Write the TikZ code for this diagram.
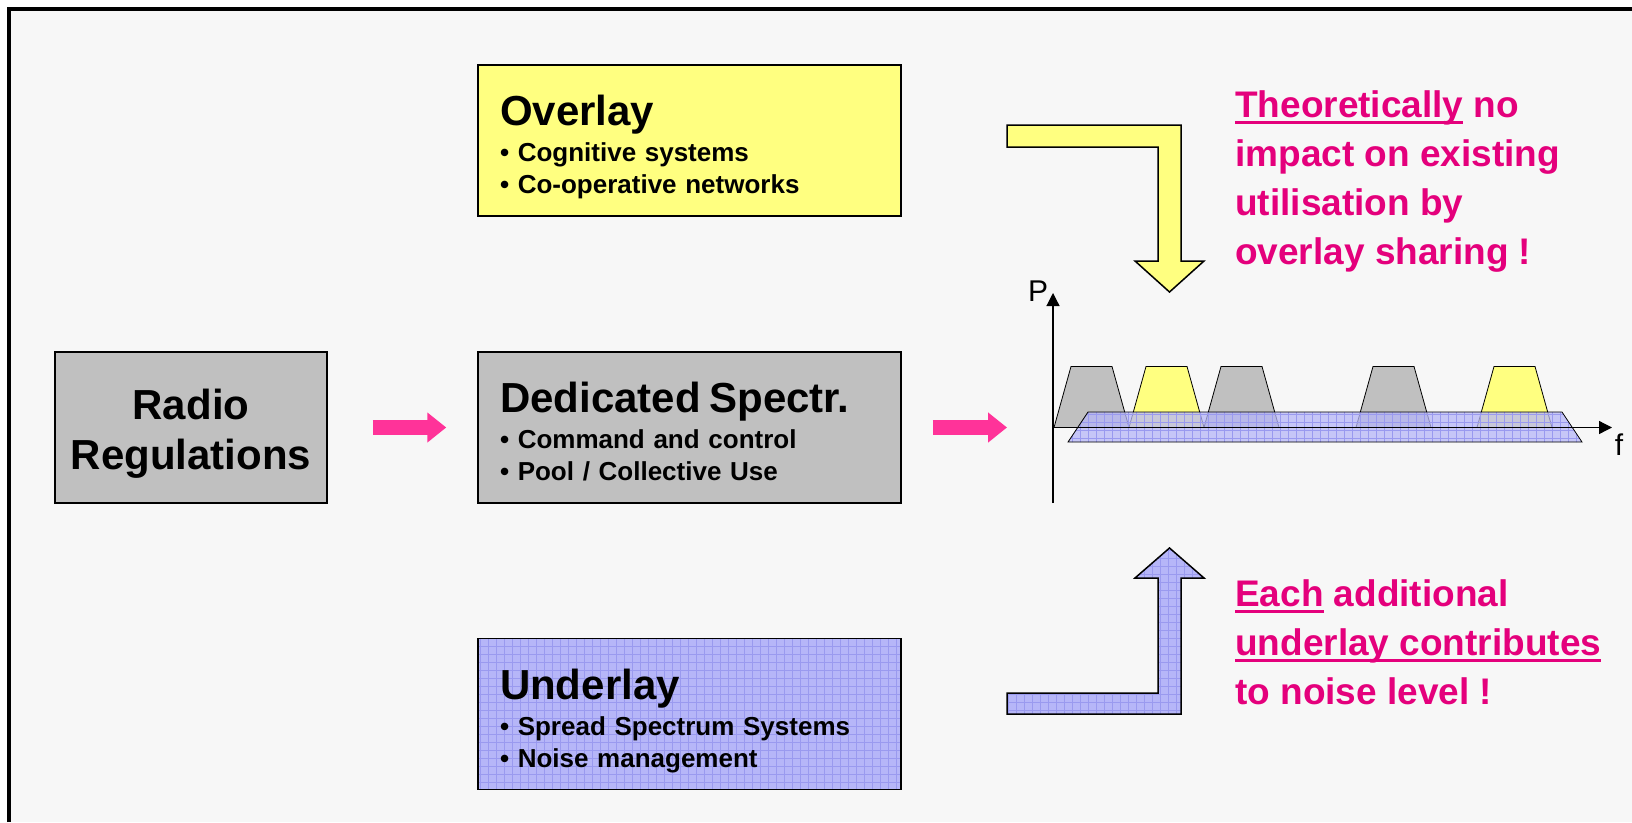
\documentclass[tikz,border=0pt]{standalone}
\usepackage{fontspec}
\setmainfont{Liberation Sans}
\usepackage{xcolor}
\usetikzlibrary{positioning,arrows.meta,patterns.meta}

\definecolor{bgcol}{HTML}{F7F7F7}
\definecolor{boxgray}{HTML}{C0C0C0}
\definecolor{boxyellow}{HTML}{FFFF80}
\definecolor{boxblue}{HTML}{B6B6F8}
\definecolor{gridblue}{HTML}{9A9AEF}
\definecolor{arrowpink}{HTML}{FF3399}
\definecolor{textpink}{HTML}{E4007C}

\newcommand{\ttl}[1]{{\fontsize{42}{50}\selectfont\rule{0pt}{44pt}#1}}
\newcommand{\undl}[1]{\leavevmode\setbox0\hbox{#1}\rlap{\rule[-7pt]{\wd0}{3pt}}\box0\relax}

\begin{document}
\begin{tikzpicture}[x=1pt, y=-1pt]
    % Define styles
    \tikzstyle{panel} = [rectangle, draw, line width=1.5pt, minimum height=151pt, inner sep=0pt]
    \tikzstyle{spectrum} = [panel, minimum width=423pt, text width=379pt, align=left, font=\fontsize{26}{32}\selectfont\bfseries]
    \tikzstyle{regbox} = [panel, fill=boxgray, minimum width=272pt, align=center, font=\fontsize{42}{50}\selectfont\bfseries]
    \tikzstyle{bluegrid} = [preaction={fill=boxblue}, pattern={Hatch[distance=8pt, line width=0.5pt]}, pattern color=gridblue]
    \tikzstyle{note} = [anchor=north west, inner sep=0pt, align=left, text=textpink, font=\fontsize{37}{49}\selectfont\bfseries]
    \tikzstyle{flow} = [line width=15pt, draw=arrowpink, -{Triangle[length=19pt, width=29pt]}]
    \tikzstyle{axis} = [line width=1.2pt, -{Triangle[length=13pt, width=13pt]}]
    \tikzstyle{blockarrow} = [line width=1.5pt, draw=black]

    % Frame
    \fill [white] (0,0) rectangle (1632,822);
    \useasboundingbox (0,0) rectangle (1632,822);
    \fill [bgcol] (9,8.7) rectangle (1632,822);
    \draw [line width=4pt] (9,822) -- (9,8.7) -- (1632,8.7);

    % Boxes
    \node [regbox] (radio) at (191,427.5) {\rule{0pt}{42pt}Radio\\Regulations\rule[-9pt]{0pt}{9pt}};
    \node [spectrum, fill=boxgray, right=149.5pt of radio] (dedicated) {\ttl{Dedicated Spectr.}\\[4pt]• Command and control\\• Pool / Collective Use\rule[-6pt]{0pt}{6pt}};
    \node [spectrum, fill=boxyellow, above=134.5pt of dedicated] (overlay) {\ttl{Overlay}\\[4pt]• Cognitive systems\\• Co-operative networks\rule[-6pt]{0pt}{6pt}};
    \node [spectrum, bluegrid, below=134.5pt of dedicated] (underlay) {\ttl{Underlay}\\[4pt]• Spread Spectrum Systems\\• Noise management\rule[-6pt]{0pt}{6pt}};

    % Spectrum plot
    \coordinate (origin) at (1053,427.5);
    \foreach \fx/\fc in {1054/boxgray, 1129/boxyellow, 1204/boxgray, 1356/boxgray, 1477/boxyellow}
        \draw [fill=\fc, line width=0.8pt] (\fx,427.5) -- ++(17,-61) -- ++(41,0) -- ++(17,61);
    \draw [preaction={fill=boxblue, fill opacity=0.75}, pattern={Hatch[distance=8pt, line width=0.5pt]}, pattern color=gridblue, line width=0.8pt] (1068,442) -- (1088,412) -- (1562,412) -- (1582,442) -- cycle;
    \draw [axis] (1053,503) -- (1053,293);
    \draw [axis] (origin) -- (1612,427.5);
    \node (plabel) at (1038,291) {\fontsize{30}{36}\selectfont P};
    \node (flabel) at (1619,445) {\fontsize{30}{36}\selectfont f};

    % Arrows
    \draw [flow, shorten <=45pt, shorten >=31pt] (radio) -- (dedicated);
    \draw [flow, shorten <=31pt, shorten >=46pt] (dedicated) -- (origin);
    \draw [blockarrow, fill=boxyellow] (1007,125) -- (1181,125) -- (1181,261) -- (1204,261) -- (1169.5,292) -- (1135,261) -- (1158,261) -- (1158,147) -- (1007,147) -- cycle;
    \draw [blockarrow, bluegrid] (1007,714) -- (1181,714) -- (1181,578) -- (1204,578) -- (1169.5,548) -- (1135,578) -- (1158,578) -- (1158,693) -- (1007,693) -- cycle;

    % Notes
    \node [note] (overlaynote) at (1235,90) {\undl{Theoretically} no\\impact on existing\\utilisation by\\overlay sharing !};
    \node [note] (underlaynote) at (1235,579) {\undl{Each} additional\\\undl{underlay contributes}\\to noise level !};
\end{tikzpicture}
\end{document}
